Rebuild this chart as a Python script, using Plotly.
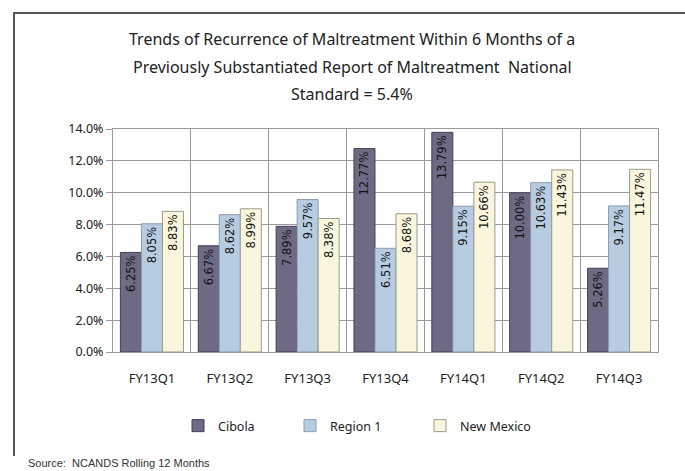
import plotly.graph_objects as go

categories = ["FY13Q1", "FY13Q2", "FY13Q3", "FY13Q4", "FY14Q1", "FY14Q2", "FY14Q3"]
cibola = [6.25, 6.67, 7.89, 12.77, 13.79, 10.00, 5.26]
region1 = [8.05, 8.62, 9.57, 6.51, 9.15, 10.63, 9.17]
new_mexico = [8.83, 8.99, 8.38, 8.68, 10.66, 11.43, 11.47]
y_ticks = [0, 2, 4, 6, 8, 10, 12, 14]
y_tick_labels = ["0.0%", "2.0%", "4.0%", "6.0%", "8.0%", "10.0%", "12.0%", "14.0%"]

W, H = 685, 471
L, R, T, B = 113, 27, 129, 119
pw, ph = W - L - R, H - T - B

def px_x(p):
    return (p - L) / pw

def px_y(p):
    return (H - B - p) / ph

FONT = "Noto Sans, sans-serif"
LABEL_FONT = dict(family="DejaVu Sans, sans-serif", size=11.5, color="#111")

series = [
    ("Cibola", cibola, "#6F6A84", "#453d5c", "legend", 178),
    ("Region 1", region1, "#B8CCE1", "#8a9bb0", "legend2", 290),
    ("New Mexico", new_mexico, "#FAF6DE", "#9a9a8c", "legend3", 420),
]

fig = go.Figure()
legend_layout = {}
for name, vals, fill, edge, leg, lx in series:
    fig.add_trace(go.Bar(
        name=name, x=categories, y=vals, legend=leg,
        marker=dict(color=fill, line=dict(color=edge, width=1)),
        text=[f"{v:.2f}%" for v in vals], textposition="inside",
        insidetextanchor="end", textangle=-90,
        textfont=LABEL_FONT, cliponaxis=False,
    ))
    legend_layout[leg] = dict(orientation="h", x=px_x(lx), xanchor="left",
                              y=px_y(426), yanchor="middle",
                              font=dict(family=FONT, size=12.5, color="#222"),
                              itemwidth=30, bgcolor="rgba(0,0,0,0)")

fig.update_layout(
    width=W, height=H,
    margin=dict(l=L, r=R, t=T, b=B),
    paper_bgcolor="white", plot_bgcolor="white",
    barmode="group", bargap=0.19, bargroupgap=0,
    font=dict(family=FONT, size=12, color="#222"),
    showlegend=True,
    xaxis=dict(tickson="boundaries", showgrid=True, gridcolor="#9a9a9a", gridwidth=1,
               ticks="", ticklabelstandoff=14,
               tickfont=dict(family=FONT, size=13, color="#222"),
               showline=True, linecolor="#9a9a9a", mirror=True),
    yaxis=dict(range=[0, 14], tickvals=y_ticks, ticktext=y_tick_labels,
               showgrid=True, gridcolor="#9a9a9a", gridwidth=1,
               ticks="outside", ticklen=6, tickcolor="#9a9a9a",
               tickfont=dict(family=FONT, size=12.5, color="#222"),
               showline=True, linecolor="#9a9a9a", mirror=True, zeroline=False),
    **legend_layout,
)

title_lines = [
    "Trends of Recurrence of Maltreatment Within 6 Months of a",
    "Previously Substantiated Report of Maltreatment  National",
    "Standard = 5.4%",
]
for i, line in enumerate(title_lines):
    fig.add_annotation(text=line, xref="paper", yref="paper",
                       x=px_x(352), y=px_y(39 + 27.5 * i), xanchor="center", yanchor="middle",
                       showarrow=False, font=dict(family=FONT, size=16, color="#222"))

fig.add_annotation(text="Source:  NCANDS Rolling 12 Months", xref="paper", yref="paper",
                   x=px_x(26), y=px_y(463), xanchor="left", yanchor="middle",
                   showarrow=False, font=dict(family="Liberation Sans, Arial, sans-serif", size=11, color="#333"))

fig.add_shape(type="path", xref="paper", yref="paper",
              path=f"M {px_x(14)} {px_y(456)} L {px_x(14)} {px_y(13)} L {px_x(690)} {px_y(13)}",
              line=dict(color="#555", width=2))

fig.write_html("out.html", config={"displayModeBar": False},
               post_script="document.body.style.margin='0';document.body.style.overflow='hidden';")
